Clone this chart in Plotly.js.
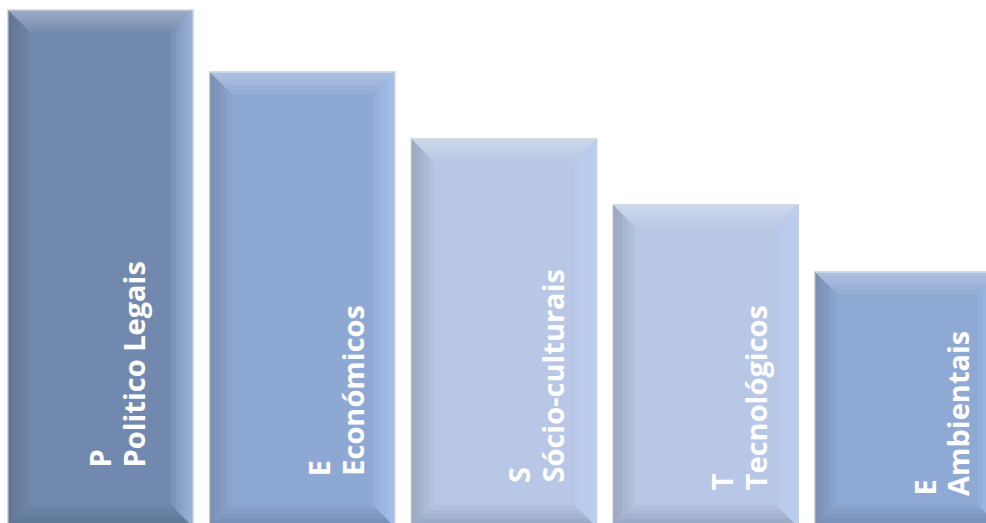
<!DOCTYPE html>
<html>
<head>
<meta charset="utf-8">
<script src="https://cdn.plot.ly/plotly-3.0.1.min.js"></script>
<style>html,body{margin:0;padding:0;background:#fff;}#chart{width:986px;height:523px;}</style>
</head>
<body>
<div id="chart"></div>
<script>
// ---- data ----
const letters = ["P", "E", "S", "T", "E"];
const categories = ["Politico Legais", "Económicos", "Sócio-culturais", "Tecnológicos", "Ambientais"];
const values = [513, 451, 384, 318, 251];
const baseValue = -4;

// ---- styles ----
const fillColors = ["#7189ae", "#8ea8d4", "#b8c7e5", "#b8c7e5", "#8ea9d4"];
const barWidth = 0.917;
const pxPerX = 201.75;
const bevelPx = 22;
const letterShift = [69, 87, 85, 87, 87];     // px from bar left edge
const lineGap = 34;                            // px between the two label lines
const labelBottom = [53, 45, 38, 31, 25];     // px above plot bottom

const xs = values.map((v, i) => i);

const trace = {
  type: "bar",
  x: xs,
  y: values.map(v => v - baseValue),
  base: baseValue,
  width: barWidth,
  marker: {color: fillColors, line: {color: "#c6cdd8", width: 1.5}},
  hoverinfo: "skip"
};

const shapes = [];
const dxFull = bevelPx / pxPerX, dyFull = bevelPx;
const sides = [
  {name: "top", color: [255, 255, 255], a: 0.32},
  {name: "right", color: [190, 215, 255], a: 0.65},
  {name: "left", color: [40, 45, 60], a: 0.2},
  {name: "bottom", color: [30, 40, 60], a: 0.22}
];
const steps = 5;
values.forEach((v, i) => {
  const L = i - barWidth / 2, R = i + barWidth / 2, T = v, B = baseValue;
  sides.forEach(s => {
    for (let k = 1; k <= steps; k++) {
      const dx = dxFull * k / steps, dy = dyFull * k / steps;
      let p;
      if (s.name === "top") p = `M${L},${T} L${R},${T} L${R - dx},${T - dy} L${L + dx},${T - dy} Z`;
      if (s.name === "left") p = `M${L},${T} L${L + dx},${T - dy} L${L + dx},${B + dy} L${L},${B} Z`;
      if (s.name === "right") p = `M${R},${T} L${R},${B} L${R - dx},${B + dy} L${R - dx},${T - dy} Z`;
      if (s.name === "bottom") p = `M${L},${B} L${R},${B} L${R - dx},${B + dy} L${L + dx},${B + dy} Z`;
      shapes.push({type: "path", xref: "x", yref: "y", path: p, layer: "above",
        line: {width: 0}, fillcolor: `rgba(${s.color.join(",")},${(s.a / steps).toFixed(3)})`});
    }
  });
});

const labelFont = {family: "'Open Sans', sans-serif", size: 29, color: "#ffffff"};
const annotations = [];
values.forEach((v, i) => {
  [letters[i], categories[i]].forEach((t, j) => {
    annotations.push({
      xref: "x", yref: "y",
      x: i - barWidth / 2, y: 0,
      xshift: letterShift[i] + j * lineGap, yshift: labelBottom[i],
      xanchor: "left", yanchor: "bottom",
      text: "<b>" + t + "</b>",
      textangle: -90, showarrow: false,
      font: labelFont
    });
  });
});

const layout = {
  width: 986, height: 523,
  margin: {l: 0, r: 0, t: 0, b: 0, pad: 0},
  paper_bgcolor: "#ffffff", plot_bgcolor: "#ffffff",
  showlegend: false,
  xaxis: {range: [-100.5 / pxPerX, (986 - 100.5) / pxPerX], visible: false, fixedrange: true},
  yaxis: {range: [0, 523], visible: false, fixedrange: true},
  shapes: shapes,
  annotations: annotations
};

Plotly.newPlot("chart", [trace], layout, {displayModeBar: false, staticPlot: true});
</script>
</body>
</html>
